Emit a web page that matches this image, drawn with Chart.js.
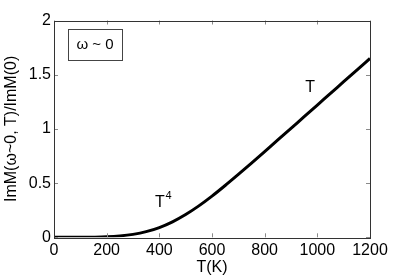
<!DOCTYPE html>
<html><head><meta charset="utf-8">
<script src="https://cdn.jsdelivr.net/npm/chart.js@4"></script>
<style>html,body{margin:0;padding:0;background:#fff}#wrap{width:409px;height:279px}</style>
</head><body><div id="wrap"><canvas id="c" width="409" height="279"></canvas></div>
<script>
const temperatures = [0,50,100,150,200,250,300,350,400,450,500,550,600,650,700,750,800,850,900,950,1000,1050,1100,1150,1200];
const ratio = [0,0,0,0.001,0.004,0.012,0.027,0.052,0.09,0.143,0.21,0.29,0.38,0.478,0.58,0.684,0.79,0.898,1.005,1.113,1.22,1.328,1.435,1.543,1.65];
const xTicks = [0,200,400,600,800,1000,1200];
const yTicks = [0,0.5,1,1.5,2];
const xTitle = 'T(K)';
const yTitle = 'ImM(\u03c9~0, T)/ImM(0)';
const legendText = '\u03c9 ~ 0';

const FONT = '"Liberation Sans", Arial, Helvetica, sans-serif';

const boxPlugin = {
  id: 'boxPlugin',
  afterDraw(chart) {
    const {ctx, chartArea: a, scales} = chart;
    ctx.save();
    ctx.strokeStyle = '#8a8a8a';
    ctx.lineWidth = 1;
    ctx.beginPath();
    xTicks.forEach(v => {
      const px = Math.round(scales.x.getPixelForValue(v)) + 0.5;
      ctx.moveTo(px, a.bottom); ctx.lineTo(px, a.bottom - 4);
      ctx.moveTo(px, a.top); ctx.lineTo(px, a.top + 4);
    });
    yTicks.forEach(v => {
      const py = Math.round(scales.y.getPixelForValue(v)) + 0.5;
      ctx.moveTo(a.left, py); ctx.lineTo(a.left + 4, py);
      ctx.moveTo(a.right, py); ctx.lineTo(a.right - 4, py);
    });
    ctx.stroke();
    ctx.strokeStyle = '#333';
    ctx.lineWidth = 1;
    ctx.strokeRect(Math.round(a.left) + 0.5, Math.round(a.top) + 0.5, Math.round(a.right - a.left), Math.round(a.bottom - a.top));
    const bx = a.left + 14, by = a.top + 8, bw = 54, bh = 31;
    ctx.fillStyle = '#fff';
    ctx.fillRect(bx, by, bw, bh);
    ctx.strokeStyle = '#444';
    ctx.strokeRect(Math.round(bx) + 0.5, Math.round(by) + 0.5, bw, bh);
    ctx.fillStyle = '#000';
    ctx.font = '15px ' + FONT;
    ctx.textAlign = 'center';
    ctx.textBaseline = 'middle';
    ctx.fillText(legendText, bx + bw / 2, by + bh / 2 + 1);
    ctx.textAlign = 'left';
    ctx.textBaseline = 'alphabetic';
    ctx.font = '16px ' + FONT;
    const t4x = scales.x.getPixelForValue(384), t4y = scales.y.getPixelForValue(0.275);
    ctx.fillText('T', t4x, t4y);
    const tw = ctx.measureText('T').width;
    ctx.font = '11px ' + FONT;
    ctx.fillText('4', t4x + tw + 0.5, t4y - 8);
    ctx.font = '16px ' + FONT;
    ctx.fillText('T', scales.x.getPixelForValue(954), scales.y.getPixelForValue(1.34));
    ctx.restore();
  }
};

new Chart(document.getElementById('c'), {
  type: 'line',
  data: {
    datasets: [{
      data: temperatures.map((t, i) => ({x: t, y: ratio[i]})),
      borderColor: '#000',
      borderWidth: 3,
      pointRadius: 0,
      cubicInterpolationMode: 'monotone',
      fill: false
    }]
  },
  options: {
    responsive: false,
    animation: false,
    devicePixelRatio: 1,
    layout: {padding: {top: 20.5, right: 39, left: 0, bottom: 0}},
    plugins: {legend: {display: false}, tooltip: {enabled: false}},
    scales: {
      x: {
        type: 'linear', min: 0, max: 1200,
        afterFit(s) { s.height = 41.7; },
        afterBuildTicks(s) { s.ticks = xTicks.map(v => ({value: v})); },
        grid: {display: false, drawTicks: false},
        border: {display: false},
        ticks: {color: '#000', padding: 4, maxRotation: 0, font: {family: FONT, size: 16}, callback: v => String(v)},
        title: {display: true, text: xTitle, color: '#000', font: {family: FONT, size: 16}, padding: {top: 0, bottom: 1.5}}
      },
      y: {
        type: 'linear', min: 0, max: 2,
        afterFit(s) { s.width = 54; },
        afterBuildTicks(s) { s.ticks = yTicks.map(v => ({value: v})); },
        grid: {display: false, drawTicks: false},
        border: {display: false},
        ticks: {color: '#000', padding: 3, font: {family: FONT, size: 16}, callback: v => String(v)},
        title: {display: true, text: yTitle, color: '#000', font: {family: FONT, size: 16}, padding: {top: 1.5, bottom: 0}}
      }
    }
  },
  plugins: [boxPlugin]
});
</script></body></html>
